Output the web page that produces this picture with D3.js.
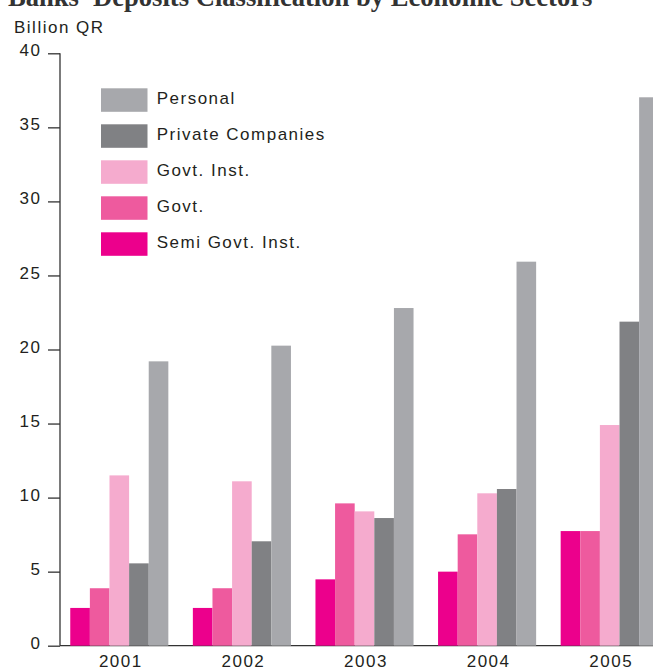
<!DOCTYPE html>
<html>
<head>
<meta charset="utf-8">
<script src="https://cdn.jsdelivr.net/npm/d3@7"></script>
<style>
  html, body { margin: 0; padding: 0; background: #fff; }
  svg { display: block; }
  .lbl { font-family: "Liberation Sans", Arial, Helvetica, sans-serif; font-size: 17px; letter-spacing: 1.5px; fill: #231f20; }
</style>
</head>
<body>
<svg id="chart" width="653" height="669"></svg>
<script>
// Deposits by economic sector, billion QR
const years = ["2001", "2002", "2003", "2004", "2005"];
const seriesNames = ["Semi Govt. Inst.", "Govt.", "Govt. Inst.", "Private Companies", "Personal"];
const semiGovtInst = [2.55, 2.55, 4.48, 5.0, 7.74];
const govt = [3.88, 3.88, 9.61, 7.52, 7.74];
const govtInst = [11.5, 11.1, 9.07, 10.29, 14.9];
const privateCompanies = [5.56, 7.05, 8.62, 10.58, 21.88];
const personal = [19.2, 20.26, 22.8, 25.93, 37.03];
const yTicks = [0, 5, 10, 15, 20, 25, 30, 35, 40];
const legendOrder = ["Personal", "Private Companies", "Govt. Inst.", "Govt.", "Semi Govt. Inst."];

const colors = {
  "Semi Govt. Inst.": "#ec008c",
  "Govt.": "#ee5a9e",
  "Govt. Inst.": "#f5abce",
  "Private Companies": "#808184",
  "Personal": "#a7a8ac"
};

const valuesBySeries = [semiGovtInst, govt, govtInst, privateCompanies, personal];
const rows = years.map((yr, i) => ({
  year: yr,
  values: seriesNames.map((name, s) => ({ name, value: valuesBySeries[s][i] }))
}));

const svg = d3.select("#chart");

const axisX = 60;
const y = d3.scaleLinear().domain([0, 40]).range([645.7, 53.3]);
const x0 = d3.scaleBand().domain(years).range([58, 671]).paddingInner(0.2).paddingOuter(0.1);
const x1 = d3.scaleBand().domain(seriesNames).range([0, x0.bandwidth()]).padding(0);

// Title (runs off the top edge)
svg.append("text")
  .attr("x", 8).attr("y", 6)
  .style("font-family", "'Liberation Serif', 'Times New Roman', serif")
  .style("font-weight", "bold")
  .style("font-size", "26.6px")
  .style("fill", "#333")
  .text("Banks' Deposits Classification by Economic Sectors");

// Unit label
svg.append("text").attr("class", "lbl")
  .attr("x", 14).attr("y", 32.7)
  .text("Billion QR");

// Bars
const groups = svg.append("g").selectAll("g")
  .data(rows).join("g")
  .attr("transform", d => `translate(${x0(d.year)},0)`);

groups.selectAll("rect")
  .data(d => d.values).join("rect")
  .attr("x", d => x1(d.name))
  .attr("width", x1.bandwidth())
  .attr("y", d => y(d.value))
  .attr("height", d => y(0) - y(d.value))
  .attr("fill", d => colors[d.name]);

// Y axis
const axisG = svg.append("g").attr("transform", `translate(${axisX},0)`);
axisG.call(d3.axisLeft(y).tickValues(yTicks).tickSize(12).tickPadding(6).tickFormat(d3.format("d")));
axisG.select(".domain").remove();
axisG.append("line")
  .attr("x1", 0).attr("x2", 0)
  .attr("y1", y(40)).attr("y2", y(0))
  .attr("stroke", "#333").attr("stroke-width", 1.3);
axisG.selectAll(".tick line").attr("stroke", "#333").attr("stroke-width", 1.3);
axisG.selectAll(".tick text")
  .attr("class", "lbl")
  .attr("dy", "0.15em")
  .attr("x", -18.5);

// Baseline along the bottom
svg.append("line")
  .attr("x1", axisX).attr("x2", 653)
  .attr("y1", y(0)).attr("y2", y(0))
  .attr("stroke", "#333").attr("stroke-width", 1.3)
  .lower();

// Year labels
svg.append("g").selectAll("text")
  .data(years).join("text")
  .attr("class", "lbl")
  .attr("x", d => x0(d) + x0.bandwidth() / 2 + 1.5)
  .attr("y", 666.5)
  .attr("text-anchor", "middle")
  .text(d => d);

// Legend
const legend = svg.append("g").selectAll("g")
  .data(legendOrder).join("g")
  .attr("transform", (d, i) => `translate(101,${88.3 + i * 36})`);
legend.append("rect")
  .attr("width", 46.5).attr("height", 23.5)
  .attr("fill", d => colors[d]);
legend.append("text").attr("class", "lbl")
  .attr("x", 55.7).attr("y", 15.3)
  .text(d => d);
</script>
</body>
</html>
